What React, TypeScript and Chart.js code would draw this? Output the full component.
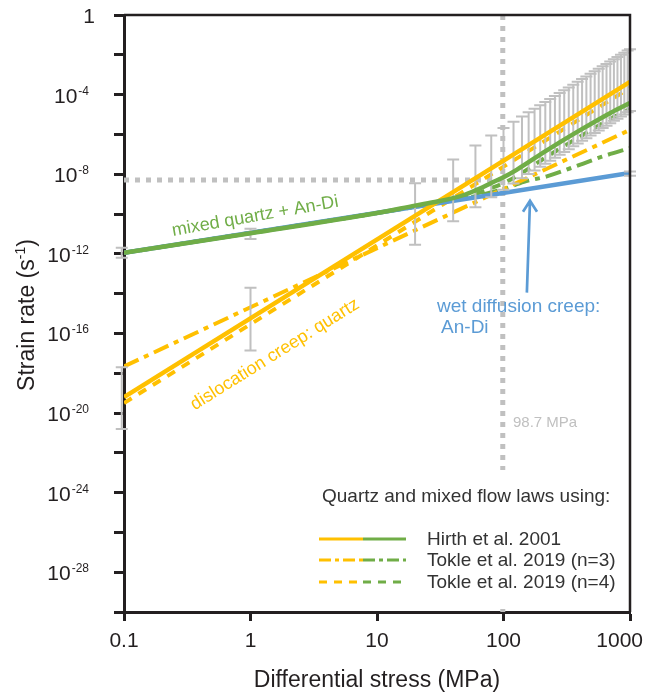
import React, { useEffect, useRef } from "react";
import { Chart, registerables } from "chart.js";
import type { ChartConfiguration, Plugin, Scale } from "chart.js";

Chart.register(...registerables);

const FONT = "'Liberation Sans', Arial, Helvetica, sans-serif";
const YELLOW = "#ffc000";
const GREEN = "#70ad47";
const BLUE = "#5b9bd5";
const GREY = "#c0c0c0";
const INK = "#231f20";
const TEXT = "#333333";

// flow laws: differential stress (MPa) and log10 strain rate (1/s)
const quartzStress = [0.1, 1000];
const hirthQuartzExp = [-19.2, -3.36];
const tokleN3QuartzExp = [-17.66, -5.77];
const tokleN4QuartzExp = [-19.5, -3.66];

const anDiStress = [0.1, 1000];
const anDiExp = [-11.95, -7.94];

const mixedHirthStress = [0.1, 1, 10, 20, 30, 40, 50, 65, 80, 100, 127, 220, 400, 700, 1000];
const mixedHirthExp = [-11.95, -10.97, -9.95, -9.58, -9.37, -9.2, -9.02, -8.72, -8.44, -8.15, -7.78, -6.8, -5.8, -4.92, -4.42];

const mixedN3Stress = [0.1, 1, 10, 30, 60, 100, 145, 220, 400, 600, 1000];
const mixedN3Exp = [-11.95, -10.95, -9.95, -9.45, -9.1, -8.75, -8.38, -8.11, -7.53, -7.12, -6.69];

const mixedN4Stress = [0.1, 1, 10, 30, 50, 80, 100, 127, 220, 400, 700, 1000];
const mixedN4Exp = [-11.95, -10.95, -9.95, -9.43, -9.17, -8.7, -8.45, -8.1, -7.12, -6.12, -5.22, -4.72];

// grey uncertainty bars (log10 strain rate, high / low)
const errStress = [
  0.096, 1, 20, 40, 60, 80, 100, 120, 140, 158, 176, 195, 214, 234, 255, 278, 302,
  328, 356, 386, 418, 452, 488, 526, 566, 608, 652, 698, 746, 796, 848, 902, 958, 1000,
];
const errHighExp = [
  -17.7, -13.7, -8.45, -7.26, -6.56, -6.06, -5.68, -5.37, -5.1, -4.89, -4.71, -4.53, -4.37,
  -4.22, -4.07, -3.92, -3.78, -3.64, -3.5, -3.36, -3.22, -3.09, -2.95, -2.83, -2.7, -2.58,
  -2.46, -2.34, -2.22, -2.11, -2.0, -1.9, -1.79, -1.72,
];
const errLowExp = [
  -20.8, -16.86, -11.55, -10.36, -9.66, -9.16, -8.78, -8.47, -8.2, -7.99, -7.81, -7.63, -7.47,
  -7.32, -7.17, -7.02, -6.88, -6.74, -6.6, -6.46, -6.32, -6.19, -6.05, -5.93, -5.8, -5.68,
  -5.56, -5.44, -5.32, -5.21, -5.1, -5.0, -4.89, -4.82,
];
const diffErrStress = [0.096, 1, 1000];
const diffErrHighExp = [-11.7, -10.74, -7.86];
const diffErrLowExp = [-12.2, -11.25, -8.08];

// reference lines
const refStress = 98.7;
const refRate = 5.1e-9;

// axes
const xTicks = [0.1, 1, 10, 100, 1000];
const xTickLabels = ["0.1", "1", "10", "100", "1000"];
const yTickExps = [0, -2, -4, -6, -8, -10, -12, -14, -16, -18, -20, -22, -24, -26, -28, -30];
const yLabelExps = [0, -4, -8, -12, -16, -20, -24, -28];

// annotation anchors (MPa, log10 strain rate)
const mixedLabelAt = [1.09, -10.12];
const dislocationLabelAt = [1.56, -17.06];
const wetLabelAt = [29.8, -14.9];
const anDiLabelAt = [32.1, -15.96];
const mpaLabelAt = [118.9, -20.72];
const arrowFrom = [153, -13.95];
const arrowTo = [162, -9.33];

const pts = (xs: number[], exps: number[]) => xs.map((x, i) => ({ x, y: 10 ** exps[i] }));

const curve = (
  label: string,
  xs: number[],
  exps: number[],
  color: string,
  width: number,
  dash: number[],
  smooth = false
) => ({
  label,
  data: pts(xs, exps),
  borderColor: color,
  backgroundColor: color,
  borderWidth: width,
  borderDash: dash,
  borderCapStyle: "butt" as const,
  borderJoinStyle: "round" as const,
  pointRadius: 0,
  fill: false,
  cubicInterpolationMode: smooth ? ("monotone" as const) : ("default" as const),
});

const DASH_DOT = [16, 6, 5, 6];
const DASHED = [9, 8];
const DOTTED = [5, 6];
const ERRORBARS_AFTER = 2; // bars sit above index 2.., below the two solid curves

function drawBars(ctx: CanvasRenderingContext2D, x: Scale, y: Scale, xs: number[], hi: number[], lo: number[]) {
  const cap = 6;
  xs.forEach((s, i) => {
    const px = x.getPixelForValue(s);
    const p1 = y.getPixelForValue(10 ** hi[i]);
    const p2 = y.getPixelForValue(10 ** lo[i]);
    ctx.beginPath();
    ctx.moveTo(px, p1);
    ctx.lineTo(px, p2);
    ctx.moveTo(px - cap, p1);
    ctx.lineTo(px + cap, p1);
    ctx.moveTo(px - cap, p2);
    ctx.lineTo(px + cap, p2);
    ctx.stroke();
  });
}

const decorPlugin: Plugin<"line"> = {
  id: "decor",
  afterDatasetDraw(chart, args) {
    if (args.index !== ERRORBARS_AFTER) return;
    const { ctx } = chart;
    const x = chart.scales.x;
    const y = chart.scales.y;
    ctx.save();
    ctx.strokeStyle = GREY;
    ctx.lineWidth = 2;
    drawBars(ctx, x, y, errStress, errHighExp, errLowExp);
    drawBars(ctx, x, y, diffErrStress, diffErrHighExp, diffErrLowExp);
    ctx.restore();
  },
  afterDraw(chart) {
    const { ctx, chartArea: a } = chart;
    const x = chart.scales.x;
    const y = chart.scales.y;
    const at = (p: number[]) => [x.getPixelForValue(p[0]), y.getPixelForValue(10 ** p[1])];
    ctx.save();

    // top and right frame
    ctx.strokeStyle = INK;
    ctx.lineWidth = 2.5;
    ctx.beginPath();
    ctx.moveTo(a.left, a.top);
    ctx.lineTo(a.right, a.top);
    ctx.lineTo(a.right, a.bottom);
    ctx.stroke();

    // tick labels
    ctx.fillStyle = INK;
    ctx.textBaseline = "alphabetic";
    ctx.font = `21px ${FONT}`;
    xTicks.forEach((v, i) => {
      const label = xTickLabels[i];
      const px = x.getPixelForValue(v);
      const half = ctx.measureText(label).width / 2;
      if (px + half > chart.width - 3) {
        ctx.textAlign = "right";
        ctx.fillText(label, chart.width - 3, a.bottom + 35);
      } else {
        ctx.textAlign = "center";
        ctx.fillText(label, px, a.bottom + 35);
      }
    });
    yLabelExps.forEach((e) => {
      const py = y.getPixelForValue(10 ** e);
      if (e === 0) {
        ctx.font = `21px ${FONT}`;
        ctx.textAlign = "right";
        ctx.fillText("1", a.left - 29, py + 8);
        return;
      }
      const right = a.left - 35;
      ctx.font = `12px ${FONT}`;
      const sup = String(e);
      const w = ctx.measureText(sup).width;
      ctx.textAlign = "left";
      ctx.fillText(sup, right - w, py);
      ctx.font = `21px ${FONT}`;
      ctx.textAlign = "right";
      ctx.fillText("10", right - w - 1, py + 8);
    });

    // axis titles
    ctx.font = `23px ${FONT}`;
    ctx.textAlign = "center";
    ctx.fillText("Differential stress (MPa)", (a.left + a.right) / 2, 687);
    ctx.save();
    ctx.translate(34, 315);
    ctx.rotate(-Math.PI / 2);
    ctx.textAlign = "left";
    const t1 = "Strain rate (s";
    const t2 = "-1";
    const t3 = ")";
    ctx.font = `23px ${FONT}`;
    const w1 = ctx.measureText(t1).width;
    const w3 = ctx.measureText(t3).width;
    ctx.font = `14px ${FONT}`;
    const w2 = ctx.measureText(t2).width;
    let cx = -(w1 + w2 + w3) / 2;
    ctx.font = `23px ${FONT}`;
    ctx.fillText(t1, cx, 0);
    cx += w1;
    ctx.font = `14px ${FONT}`;
    ctx.fillText(t2, cx, -9);
    cx += w2;
    ctx.font = `23px ${FONT}`;
    ctx.fillText(t3, cx, 0);
    ctx.restore();

    // curve labels
    const rotated = (text: string, p: number[], deg: number, color: string) => {
      const [px, py] = at(p);
      ctx.save();
      ctx.translate(px, py);
      ctx.rotate((deg * Math.PI) / 180);
      ctx.fillStyle = color;
      ctx.font = `18px ${FONT}`;
      ctx.textAlign = "center";
      ctx.textBaseline = "middle";
      ctx.fillText(text, 0, 0);
      ctx.restore();
    };
    rotated("mixed quartz + An-Di", mixedLabelAt, -10, GREEN);
    rotated("dislocation creep: quartz", dislocationLabelAt, -32, YELLOW);

    ctx.fillStyle = BLUE;
    ctx.font = `19px ${FONT}`;
    ctx.textAlign = "left";
    ctx.textBaseline = "alphabetic";
    let [lx, ly] = at(wetLabelAt);
    ctx.fillText("wet diffusion creep:", lx, ly);
    [lx, ly] = at(anDiLabelAt);
    ctx.fillText("An-Di", lx, ly);

    // arrow
    const [ax0, ay0] = at(arrowFrom);
    const [ax1, ay1] = at(arrowTo);
    ctx.strokeStyle = BLUE;
    ctx.lineWidth = 2.7;
    ctx.lineCap = "butt";
    ctx.beginPath();
    ctx.moveTo(ax0, ay0);
    ctx.lineTo(ax1, ay1);
    ctx.moveTo(ax1 - 7, ay1 + 11);
    ctx.lineTo(ax1, ay1);
    ctx.lineTo(ax1 + 7, ay1 + 11);
    ctx.stroke();

    // reference line label
    ctx.fillStyle = GREY;
    ctx.font = `15px ${FONT}`;
    [lx, ly] = at(mpaLabelAt);
    ctx.fillText(`${refStress} MPa`, lx, ly);

    // legend
    ctx.fillStyle = "#ffffff";
    ctx.fillRect(a.right - 325, a.bottom - 142, 322, 136);
    ctx.fillStyle = TEXT;
    ctx.font = `19px ${FONT}`;
    ctx.fillText("Quartz and mixed flow laws using:", a.right - 308, a.bottom - 110);
    const rows: [string, number[]][] = [
      ["Hirth et al. 2001", []],
      ["Tokle et al. 2019 (n=3)", [12, 4, 4, 4]],
      ["Tokle et al. 2019 (n=4)", [8, 7]],
    ];
    const rowY = [a.bottom - 73, a.bottom - 52, a.bottom - 30];
    rows.forEach(([text, dash], i) => {
      const ry = rowY[i];
      ctx.lineWidth = 3;
      ctx.setLineDash(dash);
      ctx.strokeStyle = YELLOW;
      ctx.beginPath();
      ctx.moveTo(a.right - 311, ry);
      ctx.lineTo(a.right - 267, ry);
      ctx.stroke();
      ctx.strokeStyle = GREEN;
      ctx.beginPath();
      ctx.moveTo(a.right - 267, ry);
      ctx.lineTo(a.right - 224, ry);
      ctx.stroke();
      ctx.setLineDash([]);
      ctx.fillStyle = TEXT;
      ctx.fillText(text, a.right - 203, ry + 6);
    });

    ctx.restore();
  },
};

const axisBase = {
  type: "logarithmic" as const,
  ticks: { display: false },
  grid: { drawOnChartArea: false, drawTicks: true, tickWidth: 3, tickColor: INK, color: INK },
  border: { display: true, color: INK, width: 3 },
};

const config: ChartConfiguration<"line"> = {
  type: "line",
  data: {
    datasets: [
      curve("Hirth mixed", mixedHirthStress, mixedHirthExp, GREEN, 4.5, [], true),
      curve("Hirth quartz", quartzStress, hirthQuartzExp, YELLOW, 4.5, []),
      curve("wet diffusion An-Di", anDiStress, anDiExp, BLUE, 4.5, []),
      curve("Tokle n=3 quartz", quartzStress, tokleN3QuartzExp, YELLOW, 4, DASH_DOT),
      curve("Tokle n=3 mixed", mixedN3Stress, mixedN3Exp, GREEN, 4, DASH_DOT, true),
      curve("Tokle n=4 quartz", quartzStress, tokleN4QuartzExp, YELLOW, 4, DASHED),
      curve("Tokle n=4 mixed", mixedN4Stress, mixedN4Exp, GREEN, 4, DASHED, true),
      {
        label: "rate ref",
        data: [
          { x: 0.1, y: refRate },
          { x: refStress, y: refRate },
        ],
        borderColor: GREY,
        borderWidth: 5,
        borderDash: DOTTED,
        borderCapStyle: "butt",
        pointRadius: 0,
      },
      {
        label: "stress ref",
        data: [
          { x: refStress, y: 1 },
          { x: refStress, y: 1e-30 },
        ],
        borderColor: GREY,
        borderWidth: 5,
        borderDash: DOTTED,
        borderCapStyle: "butt",
        pointRadius: 0,
      },
    ],
  },
  options: {
    animation: false,
    responsive: false,
    layout: { padding: { top: 15, right: 16, left: 0, bottom: 0 } },
    plugins: {
      legend: { display: false },
      tooltip: { enabled: false },
    },
    scales: {
      x: {
        ...axisBase,
        min: 0.1,
        max: 1000,
        grid: { ...axisBase.grid, tickLength: 9 },
        afterBuildTicks: (s) => {
          s.ticks = xTicks.map((value) => ({ value }));
        },
        afterFit: (s) => {
          s.height = 82;
        },
      },
      y: {
        ...axisBase,
        min: 1e-30,
        max: 1,
        grid: { ...axisBase.grid, tickLength: 10 },
        afterBuildTicks: (s) => {
          s.ticks = yTickExps.map((e) => ({ value: 10 ** e }));
        },
        afterFit: (s) => {
          s.width = 124;
        },
      },
    },
  },
  plugins: [decorPlugin],
};

export default function App() {
  const canvasRef = useRef<HTMLCanvasElement | null>(null);

  useEffect(() => {
    const canvas = canvasRef.current;
    if (!canvas) return;
    const chart = new Chart(canvas, config);
    return () => {
      chart.destroy();
    };
  }, []);

  return (
    <div style={{ position: "absolute", left: 0, top: 0, width: 646, height: 694, background: "#fff" }}>
      <canvas ref={canvasRef} width={646} height={694} style={{ display: "block" }} />
    </div>
  );
}
